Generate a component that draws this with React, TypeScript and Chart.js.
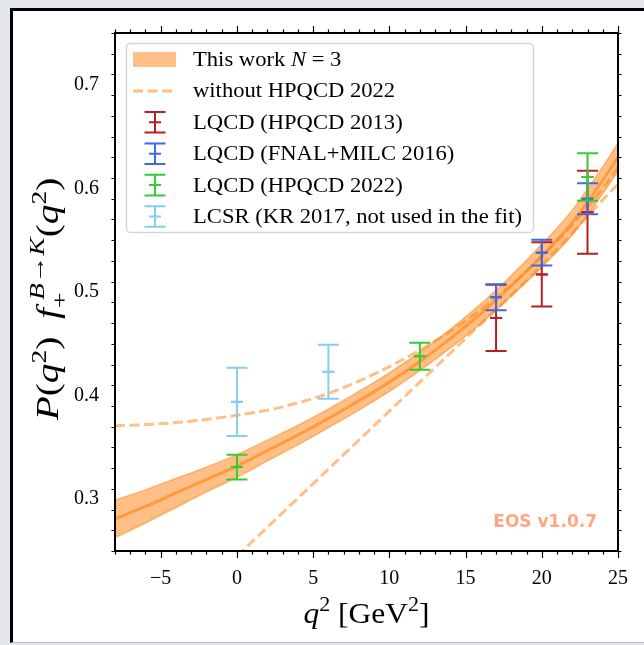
import React, { useEffect, useRef } from 'react';
import { Chart, registerables } from 'chart.js';

Chart.register(...registerables);

// ---------------- data ----------------
const qGrid = [-8, -6, -4, -2, 0, 2, 4, 6, 8, 10, 12, 14, 16, 18, 20, 22, 24, 25];
const bandUpper = [0.299, 0.309, 0.32, 0.331, 0.343, 0.357, 0.3715, 0.387, 0.404, 0.422, 0.442, 0.464, 0.4885, 0.516, 0.546, 0.579, 0.621, 0.6435];
const bandCentral = [0.281, 0.293, 0.306, 0.319, 0.332, 0.347, 0.362, 0.378, 0.395, 0.413, 0.433, 0.455, 0.479, 0.506, 0.535, 0.567, 0.608, 0.63];
const bandLower = [0.263, 0.277, 0.292, 0.307, 0.321, 0.337, 0.3525, 0.369, 0.386, 0.404, 0.424, 0.446, 0.4695, 0.496, 0.524, 0.555, 0.595, 0.6165];

const noHpqcdUpper = [0.371, 0.372, 0.374, 0.377, 0.381, 0.386, 0.393, 0.402, 0.414, 0.428, 0.444, 0.462, 0.483, 0.507, 0.534, 0.565, 0.6, 0.62];
const qLowerDashed = [0, 2, 4, 6, 8, 10, 12, 14, 16, 18, 20, 22, 24, 25];
const noHpqcdLower = [0.245, 0.273, 0.301, 0.329, 0.357, 0.385, 0.413, 0.441, 0.469, 0.497, 0.526, 0.557, 0.589, 0.604];

const hpqcd2013Q = [17, 20, 23];
const hpqcd2013Val = [0.475, 0.517, 0.577];
const hpqcd2013Err = [0.032, 0.031, 0.04];

const fnal2016Q = [17, 20, 23];
const fnal2016Val = [0.495, 0.538, 0.59];
const fnal2016Err = [0.0125, 0.0125, 0.015];

const hpqcd2022Q = [0, 12, 23];
const hpqcd2022Val = [0.331, 0.438, 0.611];
const hpqcd2022Err = [0.012, 0.013, 0.023];

const lcsrQ = [0, 6];
const lcsrVal = [0.394, 0.423];
const lcsrErr = [0.033, 0.026];

const xMin = -8, xMax = 25, yMin = 0.25, yMax = 0.75;
const xTickValues = [-5, 0, 5, 10, 15, 20, 25];
const yTickValues = [0.3, 0.4, 0.5, 0.6, 0.7];
const xMajorStep = 5, xMinorStep = 1, yMajorStep = 0.1, yMinorStep = 0.02;

const legendLabels = [
  'This work N = 3',
  'without HPQCD 2022',
  'LQCD (HPQCD 2013)',
  'LQCD (FNAL+MILC 2016)',
  'LQCD (HPQCD 2022)',
  'LCSR (KR 2017, not used in the fit)',
];

// ---------------- styles ----------------
const SERIF = '"Liberation Serif", "DejaVu Serif", serif';
const bandFill = 'rgba(255,127,14,0.5)';
const bandEdge = 'rgba(255,140,30,0.55)';
const centralColor = 'rgba(255,140,30,0.7)';
const dashColor = 'rgba(255,127,14,0.5)';
const RED = '#b22222';
const BLUE = '#4169e1';
const GREEN = '#32cd32';
const SKY = '#87ceeb';

type ErrSeries = { q: number[]; v: number[]; e: number[]; color: string };
const errSeries: ErrSeries[] = [
  { q: hpqcd2013Q, v: hpqcd2013Val, e: hpqcd2013Err, color: RED },
  { q: fnal2016Q, v: fnal2016Val, e: fnal2016Err, color: BLUE },
  { q: hpqcd2022Q, v: hpqcd2022Val, e: hpqcd2022Err, color: GREEN },
  { q: lcsrQ, v: lcsrVal, e: lcsrErr, color: SKY },
];

type Seg = { t: string; it?: boolean; s?: number; dy?: number; noAdv?: boolean };

// draws rich text with horizontal stretch sx; returns final width (already stretched)
function drawRich(ctx: CanvasRenderingContext2D, segs: Seg[], size: number, x: number, y: number, doDraw: boolean, sx = 1): number {
  let cx = 0;
  ctx.save();
  ctx.translate(x, y);
  ctx.scale(sx, 1);
  for (const sg of segs) {
    const fs = size * (sg.s ?? 1);
    ctx.font = `${sg.it ? 'italic ' : ''}${fs}px ${SERIF}`;
    const w = ctx.measureText(sg.t).width;
    if (doDraw) ctx.fillText(sg.t, cx, (sg.dy ?? 0) * size);
    if (!sg.noAdv) cx += w;
  }
  ctx.restore();
  return cx * sx;
}

function drawErrorBar(ctx: CanvasRenderingContext2D, x: number, yTop: number, yBot: number, yMid: number, color: string, capHalf: number, markHalf: number) {
  ctx.save();
  ctx.strokeStyle = color;
  ctx.lineWidth = 2;
  ctx.beginPath();
  ctx.moveTo(x, yTop);
  ctx.lineTo(x, yBot);
  ctx.moveTo(x - capHalf, yTop);
  ctx.lineTo(x + capHalf, yTop);
  ctx.moveTo(x - capHalf, yBot);
  ctx.lineTo(x + capHalf, yBot);
  ctx.moveTo(x - markHalf, yMid);
  ctx.lineTo(x + markHalf, yMid);
  ctx.stroke();
  ctx.restore();
}

const errorBarPlugin = {
  id: 'errorBars',
  afterDatasetsDraw(chart: any) {
    const { ctx, scales } = chart;
    const xs = scales.x, ys = scales.y;
    for (const s of errSeries) {
      s.q.forEach((q, i) => {
        const px = xs.getPixelForValue(q);
        drawErrorBar(ctx, px, ys.getPixelForValue(s.v[i] + s.e[i]), ys.getPixelForValue(s.v[i] - s.e[i]), ys.getPixelForValue(s.v[i]), s.color, 10.5, 6);
      });
    }
  },
};

const framePlugin = {
  id: 'frameTicks',
  afterDraw(chart: any) {
    const { ctx, chartArea: a, scales } = chart;
    const xs = scales.x, ys = scales.y;
    ctx.save();
    ctx.strokeStyle = '#000';
    ctx.lineWidth = 1.2;
    ctx.beginPath();
    const n = Math.round((xMax - xMin) / xMinorStep);
    for (let k = 0; k <= n; k++) {
      const v = xMin + k * xMinorStep;
      const px = Math.round(xs.getPixelForValue(v)) + 0.5;
      const major = Math.abs(v / xMajorStep - Math.round(v / xMajorStep)) < 1e-6;
      const L = major ? 7 : 3.5;
      ctx.moveTo(px, a.bottom);
      ctx.lineTo(px, a.bottom + L);
      ctx.moveTo(px, a.top);
      ctx.lineTo(px, a.top - L);
    }
    const m = Math.round((yMax - yMin) / yMinorStep);
    for (let k = 0; k <= m; k++) {
      const v = yMin + k * yMinorStep;
      const py = Math.round(ys.getPixelForValue(v)) + 0.5;
      const major = Math.abs(v / yMajorStep - Math.round(v / yMajorStep)) < 1e-6;
      const L = major ? 7 : 3.5;
      ctx.moveTo(a.left, py);
      ctx.lineTo(a.left - L, py);
      ctx.moveTo(a.right, py);
      ctx.lineTo(a.right + L, py);
    }
    ctx.stroke();
    ctx.lineWidth = 2;
    ctx.strokeRect(a.left, a.top, a.right - a.left, a.bottom - a.top);

    // watermark
    ctx.font = 'bold 17px "DejaVu Sans", sans-serif';
    ctx.fillStyle = 'rgba(255,127,80,0.7)';
    ctx.textAlign = 'right';
    ctx.textBaseline = 'alphabetic';
    ctx.fillText('EOS v1.0.7', a.right - 21, a.bottom - 24);

    // legend
    const lx = 126, ly = 43, lw = 407, lh = 189;
    ctx.beginPath();
    (ctx as any).roundRect(lx + 0.5, ly + 0.5, lw, lh, 4);
    ctx.fillStyle = 'rgba(255,255,255,0.85)';
    ctx.fill();
    ctx.strokeStyle = '#d6d6d6';
    ctx.lineWidth = 1.5;
    ctx.stroke();

    const rowY = (i: number) => ly + 16.5 + i * 31.4;
    ctx.fillStyle = bandFill;
    ctx.fillRect(133, rowY(0) - 7.5, 43, 15);
    ctx.save();
    ctx.strokeStyle = dashColor;
    ctx.lineWidth = 3;
    ctx.setLineDash([10, 4.5]);
    ctx.beginPath();
    ctx.moveTo(133, rowY(1));
    ctx.lineTo(176, rowY(1));
    ctx.stroke();
    ctx.restore();
    errSeries.forEach((s, i) => {
      const cy = rowY(i + 2);
      drawErrorBar(ctx, 155, cy - 10.3, cy + 10.3, cy, s.color, 10.5, 6);
    });

    ctx.fillStyle = '#000';
    ctx.textAlign = 'left';
    ctx.textBaseline = 'alphabetic';
    const fs = 20;
    const lsx = 1.13;
    legendLabels.forEach((lab, i) => {
      const by = rowY(i) + 6.5;
      if (i === 0) {
        drawRich(ctx, [{ t: 'This work ' }, { t: 'N', it: true }, { t: ' = 3' }], fs, 193, by, true, lsx);
      } else {
        drawRich(ctx, [{ t: lab }], fs, 193, by, true, lsx);
      }
    });

    // x title
    const xt: Seg[] = [
      { t: 'q', it: true },
      { t: '2', s: 0.7, dy: -0.4 },
      { t: ' [GeV' },
      { t: '2', s: 0.7, dy: -0.4 },
      { t: ']' },
    ];
    const ts = 30;
    const xw = drawRich(ctx, xt, ts, 0, 0, false, 1.05);
    drawRich(ctx, xt, ts, (a.left + a.right) / 2 - xw / 2, 623, true, 1.05);

    // y title
    const yt: Seg[] = [
      { t: 'P', it: true },
      { t: '(' },
      { t: 'q', it: true },
      { t: '2', s: 0.7, dy: -0.4 },
      { t: ')\u2009 ' },
      { t: 'f', it: true },
      { t: '+', s: 0.7, dy: 0.3, noAdv: true },
      { t: '\u2009' },
      { t: 'B', it: true, s: 0.7, dy: -0.45 },
      { t: '\u2192', s: 0.7, dy: -0.45 },
      { t: 'K', it: true, s: 0.7, dy: -0.45 },
      { t: '(' },
      { t: 'q', it: true },
      { t: '2', s: 0.7, dy: -0.4 },
      { t: ')' },
    ];
    const ysx = 1.27;
    const yfs = 31;
    const yw = drawRich(ctx, yt, yfs, 0, 0, false, ysx);
    ctx.save();
    ctx.translate(58, 299);
    ctx.rotate(-Math.PI / 2);
    drawRich(ctx, yt, yfs, -yw / 2, 0, true, ysx);
    ctx.restore();
    ctx.restore();
  },
};

const fmtX = (v: number) => (v < 0 ? '\u2212' + Math.abs(v) : String(v));

export default function App() {
  const ref = useRef<HTMLCanvasElement | null>(null);
  useEffect(() => {
    document.body.style.margin = '0';
    document.body.style.background = '#e4e8ec';
    const canvas = ref.current!;
    const line = (xs: number[], ys: number[]) => xs.map((x, i) => ({ x, y: ys[i] }));
    const pts = (s: ErrSeries) => s.q.map((x, i) => ({ x, y: s.v[i] }));
    const chart = new Chart(canvas, {
      type: 'line',
      data: {
        datasets: [
          ...errSeries.map((s, i) => ({
            type: 'scatter' as const,
            label: 'err' + i,
            data: pts(s),
            showLine: false,
            pointStyle: 'line' as const,
            pointRadius: 6,
            borderWidth: 2,
            borderColor: s.color,
            order: 4 - i,
          })),
          {
            label: 'central',
            data: line(qGrid, bandCentral),
            borderColor: centralColor,
            borderWidth: 3,
            pointRadius: 0,
            cubicInterpolationMode: 'monotone' as const,
            fill: false,
            order: 10,
          },
          {
            label: 'upper',
            data: line(qGrid, bandUpper),
            borderColor: bandEdge,
            borderWidth: 1.5,
            pointRadius: 0,
            cubicInterpolationMode: 'monotone' as const,
            fill: '+1',
            backgroundColor: bandFill,
            order: 11,
          },
          {
            label: 'lower',
            data: line(qGrid, bandLower),
            borderColor: bandEdge,
            borderWidth: 1.5,
            pointRadius: 0,
            cubicInterpolationMode: 'monotone' as const,
            fill: false,
            order: 12,
          },
          {
            label: 'noHpqcdUpper',
            data: line(qGrid, noHpqcdUpper),
            borderColor: dashColor,
            borderWidth: 3,
            borderDash: [10, 4.5],
            pointRadius: 0,
            cubicInterpolationMode: 'monotone' as const,
            fill: false,
            order: 20,
          },
          {
            label: 'noHpqcdLower',
            data: line(qLowerDashed, noHpqcdLower),
            borderColor: dashColor,
            borderWidth: 3,
            borderDash: [10, 4.5],
            pointRadius: 0,
            cubicInterpolationMode: 'monotone' as const,
            fill: false,
            order: 21,
          },
        ],
      },
      options: {
        animation: false,
        responsive: false,
        layout: { padding: { left: 0, top: 33, right: 23, bottom: 0 } },
        plugins: { legend: { display: false }, tooltip: { enabled: false } },
        scales: {
          x: {
            type: 'linear',
            min: xMin,
            max: xMax,
            grid: { display: false, drawTicks: false },
            border: { display: false },
            afterBuildTicks: (s: any) => { s.ticks = xTickValues.map((value) => ({ value })); },
            ticks: {
              autoSkip: false,
              maxRotation: 0,
              padding: 16,
              color: '#000',
              font: { family: SERIF, size: 20 },
              callback: (v: any) => fmtX(Number(v)),
            },
            afterFit: (s: any) => { s.height = 94; },
          },
          y: {
            type: 'linear',
            min: yMin,
            max: yMax,
            grid: { display: false, drawTicks: false },
            border: { display: false },
            afterBuildTicks: (s: any) => { s.ticks = yTickValues.map((value) => ({ value })); },
            ticks: {
              autoSkip: false,
              padding: 16,
              color: '#000',
              font: { family: SERIF, size: 20 },
              callback: (v: any) => Number(v).toFixed(1),
            },
            afterFit: (s: any) => { s.width = 115; },
          },
        },
      },
      plugins: [errorBarPlugin, framePlugin],
    } as any);
    return () => chart.destroy();
  }, []);

  return (
    <div style={{ position: 'fixed', left: 0, top: 0, width: 644, height: 645, background: '#e4e8ec', overflow: 'hidden' }}>
      <div style={{ position: 'absolute', left: 10, top: 8, width: 700, height: 631, background: '#fff', borderLeft: '3px solid #000', borderTop: '3px solid #000', borderBottom: '1px solid #bbb' }} />
      <canvas ref={ref} width={644} height={645} style={{ position: 'absolute', left: 0, top: 0, width: 644, height: 645 }} />
    </div>
  );
}
